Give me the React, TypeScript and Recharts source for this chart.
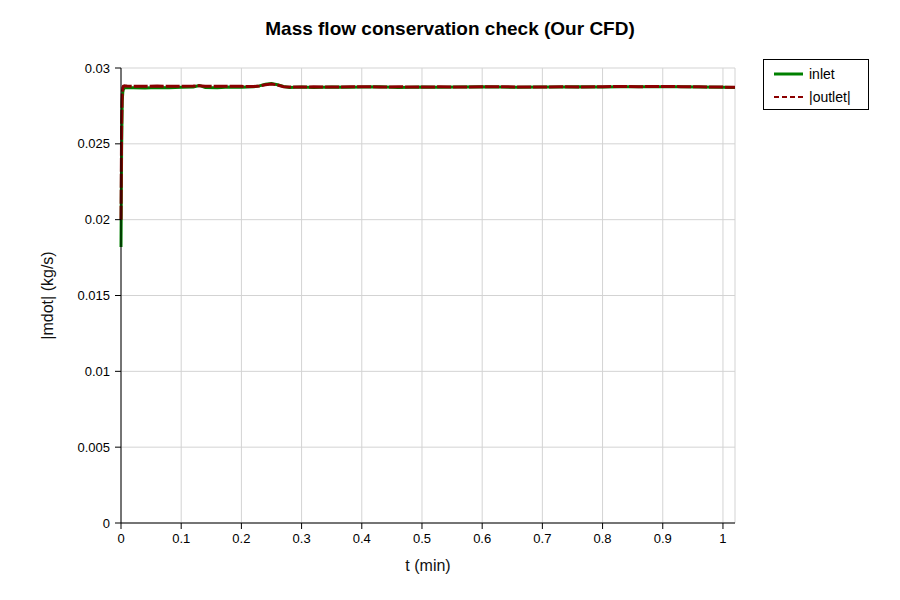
import { CartesianGrid, Line, LineChart, XAxis, YAxis } from "recharts";

// time in minutes
const tMin = [
  0, 0.001, 0.002, 0.003, 0.004, 0.006, 0.008, 0.01, 0.02, 0.04, 0.06, 0.08, 0.1, 0.12, 0.13, 0.14, 0.16,
  0.18, 0.2, 0.22, 0.23, 0.24, 0.25, 0.26, 0.27, 0.28, 0.3, 0.32, 0.35, 0.38, 0.4, 0.43, 0.46, 0.5, 0.53,
  0.56, 0.6, 0.63, 0.66, 0.7, 0.73, 0.76, 0.8, 0.83, 0.86, 0.9, 0.93, 0.96, 1.0, 1.02,
];

// |mdot| in kg/s
const inletFlow = [
  0.0182, 0.0245, 0.0278, 0.0284, 0.0286, 0.0287, 0.0287, 0.0287, 0.0287, 0.02868, 0.02872, 0.0287, 0.02873,
  0.02875, 0.02885, 0.02872, 0.0287, 0.02874, 0.02873, 0.02876, 0.02882, 0.02893, 0.02898, 0.0289, 0.02878,
  0.02872, 0.02874, 0.02872, 0.02875, 0.02873, 0.02874, 0.02876, 0.02872, 0.02875, 0.02873, 0.02874, 0.02876,
  0.02874, 0.02873, 0.02875, 0.02874, 0.02876, 0.02875, 0.02877, 0.02876, 0.02877, 0.02876, 0.02874, 0.02873,
  0.02872,
];

const outletFlow = [
  0.02, 0.0262, 0.0283, 0.0287, 0.0288, 0.02883, 0.02882, 0.02881, 0.0288, 0.02879, 0.02881, 0.0288, 0.0288,
  0.02881, 0.02883, 0.0288, 0.02879, 0.0288, 0.02879, 0.02878, 0.02882, 0.0289, 0.02895, 0.02888, 0.02876,
  0.02875, 0.02874, 0.02876, 0.02875, 0.02876, 0.02877, 0.02875, 0.02876, 0.02874, 0.02876, 0.02875, 0.02876,
  0.02877, 0.02875, 0.02874, 0.02876, 0.02875, 0.02877, 0.02878, 0.02877, 0.02878, 0.02877, 0.02876, 0.02874,
  0.02873,
];

const xTicks = [0, 0.1, 0.2, 0.3, 0.4, 0.5, 0.6, 0.7, 0.8, 0.9, 1];
const yTicks = [0, 0.005, 0.01, 0.015, 0.02, 0.025, 0.03];

const seriesNames = ["inlet", "|outlet|"];
const seriesColors = ["#008000", "#8b0000"];

const data = tMin.map((t, i) => ({ t, inlet: inletFlow[i], outlet: outletFlow[i] }));

const font = '"Liberation Sans", Arial, sans-serif';

function LegendBox() {
  return (
    <div
      style={{
        position: "absolute",
        left: 763,
        top: 59,
        width: 104,
        height: 49,
        border: "1px solid #000",
        background: "#fff",
        fontSize: 14,
        color: "#000",
      }}
    >
      {seriesNames.map((name, i) => (
        <div key={name} style={{ position: "absolute", left: 10, top: 4 + i * 23, height: 20, display: "flex", alignItems: "center" }}>
          <svg width={30} height={10} style={{ marginRight: 5 }}>
            <line
              x1={0}
              y1={5}
              x2={29}
              y2={5}
              stroke={seriesColors[i]}
              strokeWidth={i === 0 ? 3 : 2}
              strokeDasharray={i === 0 ? undefined : "5 3"}
            />
          </svg>
          <span>{name}</span>
        </div>
      ))}
    </div>
  );
}

export default function App() {
  return (
    <div style={{ position: "absolute", left: 0, top: 0, width: 900, height: 600, background: "#fff", fontFamily: font }}>
      <div
        style={{
          position: "absolute",
          top: 18,
          left: 0,
          width: 900,
          textAlign: "center",
          fontSize: 19,
          fontWeight: "bold",
          lineHeight: "22px",
          color: "#000",
        }}
      >
        Mass flow conservation check (Our CFD)
      </div>
      <LineChart width={900} height={600} data={data} margin={{ top: 68, right: 165, bottom: 0, left: 0 }}>
        <CartesianGrid stroke="#d3d3d3" strokeWidth={1} />
        <XAxis
          dataKey="t"
          type="number"
          domain={[0, 1.02]}
          ticks={xTicks}
          height={77}
          tickSize={6}
          tickMargin={5}
          stroke="#000"
          tick={{ fill: "#000", fontSize: 13 }}
          tickFormatter={(v: number) => String(v)}
          label={{ value: "t (min)", position: "insideBottom", offset: 29, fontSize: 16, fill: "#111" }}
        />
        <YAxis
          type="number"
          domain={[0, 0.03]}
          ticks={yTicks}
          width={121}
          tickSize={6}
          tickMargin={5}
          stroke="#000"
          tick={{ fill: "#000", fontSize: 13 }}
          tickFormatter={(v: number) => String(v)}
          label={{
            value: "|mdot| (kg/s)",
            position: "insideLeft",
            angle: -90,
            offset: 47,
            fontSize: 16,
            fill: "#111",
            style: { textAnchor: "middle" },
          }}
        />
        <Line
          dataKey="inlet"
          name={seriesNames[0]}
          type="linear"
          stroke={seriesColors[0]}
          strokeWidth={3}
          dot={false}
          isAnimationActive={false}
        />
        <Line
          dataKey="outlet"
          name={seriesNames[1]}
          type="linear"
          stroke={seriesColors[1]}
          strokeWidth={3}
          strokeDasharray="14 2"
          dot={false}
          isAnimationActive={false}
        />
      </LineChart>
      <LegendBox />
    </div>
  );
}
